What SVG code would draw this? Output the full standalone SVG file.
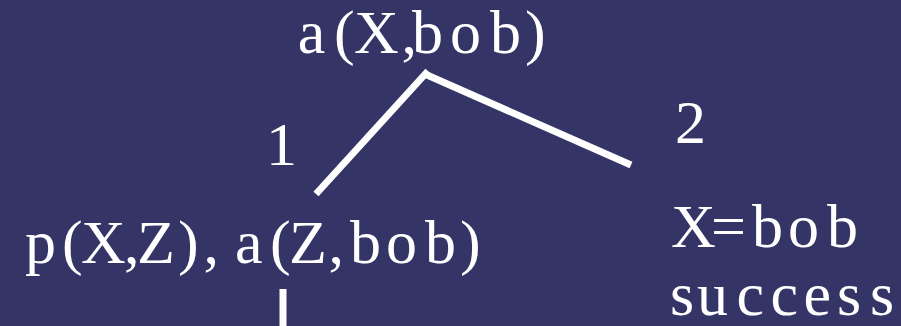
<svg xmlns="http://www.w3.org/2000/svg" width="901" height="326" viewBox="0 0 901 326">
<style>
.t{font-family:"Liberation Serif","Times New Roman",serif;fill:#ffffff;font-size:62px}
.c{stroke:#ffffff;stroke-width:7;fill:none}
</style>
<rect width="901" height="326" fill="#343466"/>
<g id="connectors">
<line class="c" x1="316" y1="194" x2="428" y2="71"/>
<line class="c" x1="427" y1="75" x2="631" y2="165"/>
<line class="c" x1="283" y1="289" x2="283" y2="326"/>
</g>
<g id="root"><text class="t" x="297.7 334 354 401.5 412 450 490 525" y="53">a(X,bob)</text></g>
<g id="label1"><text class="t" x="266" y="165">1</text></g>
<g id="label2"><text class="t" x="675" y="143">2</text></g>
<g id="left"><text class="t" x="25 62 81 124 137 178 203.5 219 235 270 289 328.5 350 386 425 460" y="263">p(X,Z), a(Z,bob)</text></g>
<g id="right"><text class="t" x="671 711 752 788 827" y="247">X=bob</text><text class="t" x="670 697 736.5 770.5 803.5 837 870" y="315">success</text></g>
</svg>
